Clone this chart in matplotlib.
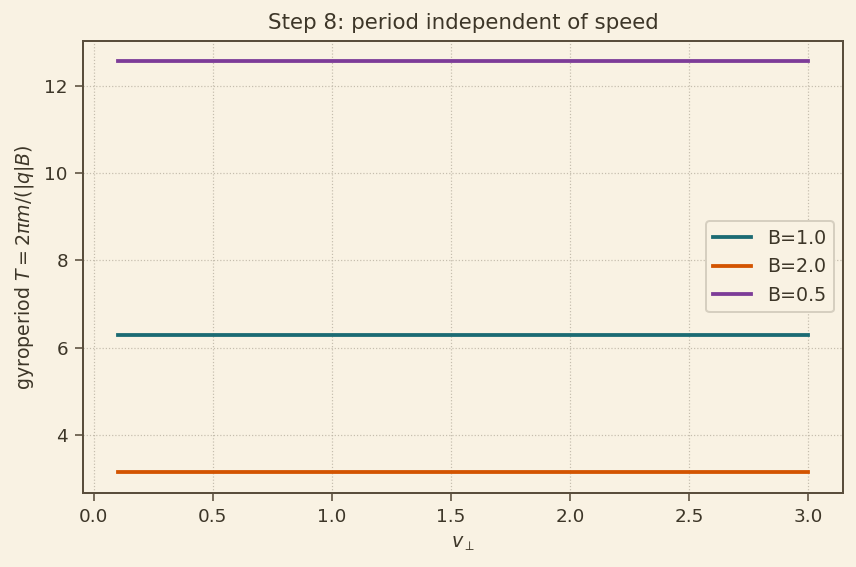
import matplotlib
matplotlib.use("Agg")
import matplotlib.pyplot as plt

# data
v_perp = [0.1, 3.0]
B_values = [1.0, 2.0, 0.5]
period_B1 = [6.283, 6.283]
period_B2 = [3.142, 3.142]
period_B05 = [12.566, 12.566]
line_colors = ["#1b6b73", "#d35400", "#7d3c98"]

BG = "#f9f2e3"
INK = "#3d3628"
SPINE = "#5a4e3c"

plt.rcParams["font.family"] = "DejaVu Sans"

fig = plt.figure(figsize=(856 / 144, 567 / 144), dpi=144)
fig.set_facecolor(BG)
ax = fig.add_axes([83 / 856, 1 - 493 / 567, (843 - 83) / 856, (493 - 40.7) / 567])
ax.set_facecolor(BG)

for B, T, c in zip(B_values, [period_B1, period_B2, period_B05], line_colors):
    ax.plot(v_perp, T, color=c, linewidth=1.9, label=f"B={B}")

ax.set_xlabel(r"$v_\perp$", fontsize=9.5, color=INK)
ax.set_ylabel(r"gyroperiod $T=2\pi m/(|q|B)$", fontsize=9.5, color=INK)
ax.set_title("Step 8: period independent of speed", fontsize=10.7, color=INK)

ax.grid(True, linestyle=":", linewidth=0.6, color="#b8b0a0", alpha=0.8)
for s in ax.spines.values():
    s.set_color(SPINE)
    s.set_linewidth(1.0)
ax.tick_params(colors=SPINE, labelcolor=INK, labelsize=9.2, length=4)

leg = ax.legend(loc="center right", fontsize=9.5, frameon=True, facecolor=BG,
                edgecolor="#d6cfc0", framealpha=1.0)
for t in leg.get_texts():
    t.set_color(INK)

fig.savefig("out.png", dpi=144, facecolor=BG)
